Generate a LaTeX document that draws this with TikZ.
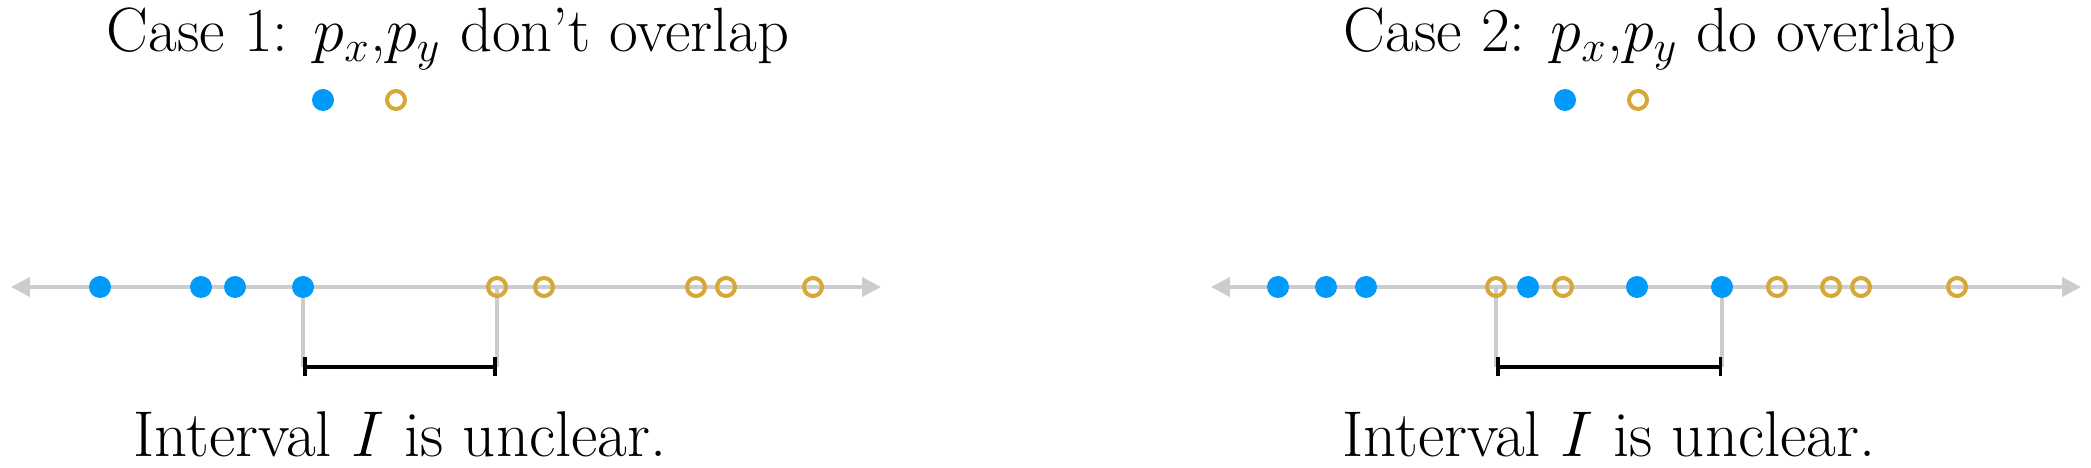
\RequirePackage{fix-cm}
\documentclass[tikz,border=0pt]{standalone}
\usetikzlibrary{arrows.meta}

\definecolor{xblue}{RGB}{0,155,250}
\definecolor{ygold}{RGB}{214,168,56}
\definecolor{axgray}{RGB}{204,204,204}

\tikzset{
  numline/.style={axgray, line width=1.15pt,
    {Triangle[length=0.19cm,width=0.19cm]}-{Triangle[length=0.19cm,width=0.19cm]}},
  guide/.style={axgray, line width=1pt},
  intv/.style={black, line width=1pt, {Bar[width=0.19cm]}-{Bar[width=0.19cm]}},
  xpt/.style={circle, fill=xblue, inner sep=0pt, minimum size=0.22cm},
  ypt/.style={circle, draw=ygold, line width=1.15pt, inner sep=0pt, minimum size=0.18cm},
  headline/.style={anchor=base, font=\fontsize{17.8}{21}\selectfont},
  footline/.style={anchor=base, font=\fontsize{18.4}{22}\selectfont},
}

\begin{document}
\begin{tikzpicture}[>=Latex]
  \useasboundingbox (0,0) rectangle (20.91,4.68);

  % --- case 1: p_x and p_y apart ---
  \begin{scope}
    \coordinate (aL) at (0.11,1.81);
    \coordinate (aR) at (8.81,1.81);
    \foreach \x [count=\i] in {1.00,2.01,2.35,3.03}
      \coordinate (ax\i) at (\x,1.81);
    \foreach \x [count=\i] in {4.97,5.44,6.96,7.26,8.13}
      \coordinate (ay\i) at (\x,1.81);
    \coordinate (aA) at (3.03,1.01);
    \coordinate (aB) at (4.97,1.01);

    \draw[numline] (aL) -- (aR);
    \draw[guide] (ax4) -- (aA);
    \draw[guide] (ay1) -- (aB);
    \draw[intv] (aA) -- (aB);
    \foreach \i in {1,...,4} \node[xpt] (adx\i) at (ax\i) {};
    \foreach \i in {1,...,5} \node[ypt] (ady\i) at (ay\i) {};

    \node[headline] (atitle) at (4.48,4.16) {Case 1: $p_x$,$p_y$ don’t overlap};
    \node[xpt] (apx) at (3.23,3.68) {};
    \node[ypt] (apy) at (3.96,3.68) {};
    \node[footline] (anote) at (4.00,0.11) {Interval $I$ is unclear.};
  \end{scope}

  % --- case 2: p_x and p_y mixed ---
  \begin{scope}[shift={(12,0)}]
    \coordinate (bL) at (0.11,1.81);
    \coordinate (bR) at (8.81,1.81);
    \foreach \x [count=\i] in {0.78,1.26,1.66,3.28,4.37,5.22}
      \coordinate (bx\i) at (\x,1.81);
    \foreach \x [count=\i] in {2.96,3.63,5.77,6.31,6.61,7.57}
      \coordinate (by\i) at (\x,1.81);
    \coordinate (bA) at (2.96,1.01);
    \coordinate (bB) at (5.22,1.01);

    \draw[numline] (bL) -- (bR);
    \draw[guide] (by1) -- (bA);
    \draw[guide] (bx6) -- (bB);
    \draw[intv] (bA) -- (bB);
    \foreach \i in {1,...,6} \node[xpt] (bdx\i) at (bx\i) {};
    \foreach \i in {1,...,6} \node[ypt] (bdy\i) at (by\i) {};

    \node[headline] (btitle) at (4.50,4.16) {Case 2: $p_x$,$p_y$ do overlap};
    \node[xpt] (bpx) at (3.65,3.68) {};
    \node[ypt] (bpy) at (4.38,3.68) {};
    \node[footline] (bnote) at (4.09,0.11) {Interval $I$ is unclear.};
  \end{scope}
\end{tikzpicture}
\end{document}
